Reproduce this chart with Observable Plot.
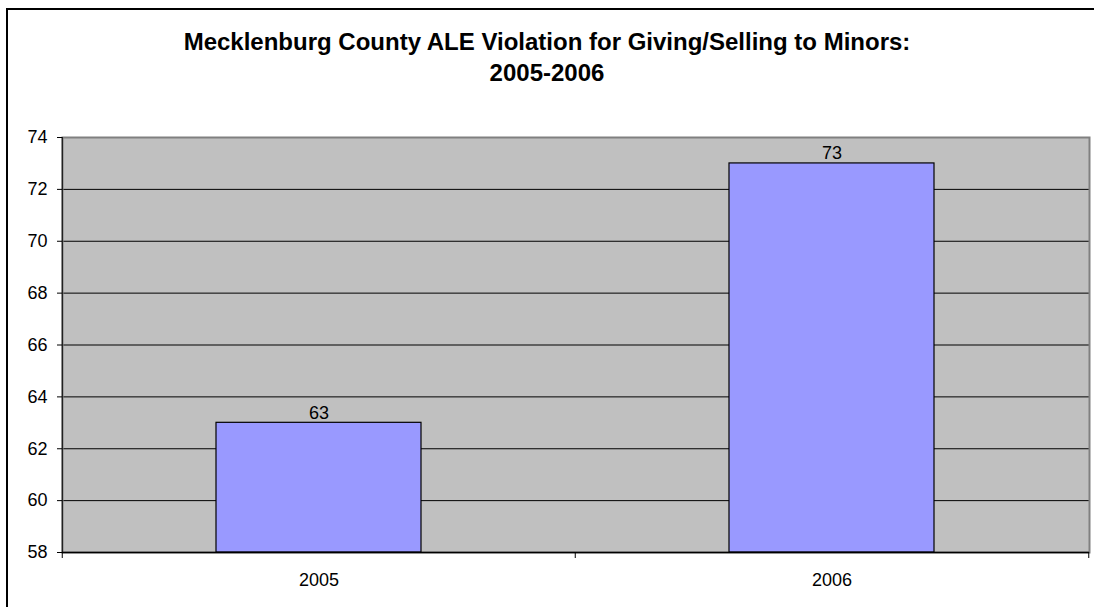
<!DOCTYPE html>
<html>
<head>
<meta charset="utf-8">
<script src="https://cdn.jsdelivr.net/npm/d3@7"></script>
<script src="https://cdn.jsdelivr.net/npm/@observablehq/plot@0.6"></script>
<style>
  html, body { margin: 0; padding: 0; background: #fff; overflow: hidden; }
  #page { position: relative; width: 1094px; height: 607px; overflow: hidden; font-family: "Liberation Sans", Arial, sans-serif; }
  #frame { position: absolute; left: 6px; top: 8px; width: 1200px; height: 700px; border: 2px solid #000; box-sizing: border-box; }
  #title { position: absolute; left: 0; top: 26px; width: 1094px; text-align: center; font-weight: bold; font-size: 24px; line-height: 31px; color: #000; }
  #chart { position: absolute; left: 0; top: 110px; }
</style>
</head>
<body>
<div id="page">
  <div id="frame"></div>
  <div id="title">Mecklenburg County ALE Violation for Giving/Selling to Minors:<br>2005-2006</div>
  <div id="chart"></div>
</div>
<script>
const years = ["2005", "2006"];
const violations = [63, 73];
const yTicks = [58, 60, 62, 64, 66, 68, 70, 72, 74];

const data = years.map((y, i) => ({year: y, value: violations[i]}));

const W = 1094, H = 497;
const mL = 62, mR = 5, mT = 27, mB = 55;
const step = (W - mL - mR) / years.length;

const plot = Plot.plot({
  width: W,
  height: H,
  marginLeft: mL,
  marginRight: mR,
  marginTop: mT,
  marginBottom: mB,
  style: {fontFamily: "'Liberation Sans', Arial, sans-serif", fontSize: "18px", color: "#000", background: "transparent"},
  x: {domain: years, paddingInner: 0.6, paddingOuter: 0.3, label: null},
  y: {domain: [58, 74], ticks: yTicks, label: null},
  marks: [
    Plot.frame({fill: "#C0C0C0", stroke: "none"}),
    Plot.ruleY(yTicks, {stroke: "#000", strokeWidth: 1}),
    Plot.frame({stroke: "#808080", strokeWidth: 2, fill: "none"}),
    Plot.barY(data, {x: "year", y1: 58, y2: "value", fill: "#9999FF", stroke: "#000", strokeWidth: 1.2}),
    Plot.text(data, {x: "year", y: "value", text: d => String(d.value), lineAnchor: "bottom", dy: -4, fontSize: 18, fill: "#000"}),
    Plot.axisY({ticks: yTicks, tickSize: 5, tickPadding: 10, tickFormat: d => String(d), fontSize: 18, stroke: "#000"}),
    Plot.axisX({tickSize: 0, tickPadding: 21, fontSize: 18}),
    Plot.ruleX(years, {x: d => d, y1: 58, y2: 58, dx: -step / 2, insetBottom: -6, stroke: "#000"}),
    Plot.ruleX(years.slice(-1), {x: d => d, y1: 58, y2: 58, dx: step / 2, insetBottom: -6, stroke: "#000"}),
    Plot.ruleY([58], {stroke: "#000", strokeWidth: 1.5}),
    Plot.ruleX([years[0]], {x: d => d, y1: 58, y2: 74, dx: -step / 2, stroke: "#000", strokeWidth: 1})
  ]
});
document.getElementById("chart").appendChild(plot);
</script>
</body>
</html>
